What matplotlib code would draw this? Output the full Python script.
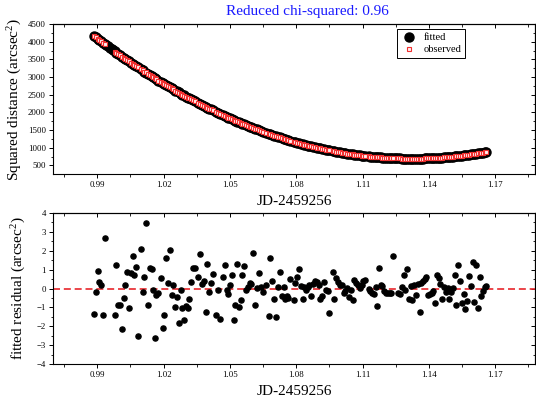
import matplotlib
matplotlib.use("Agg")
import matplotlib.pyplot as plt
from matplotlib.ticker import MultipleLocator
import numpy as np

plt.rcParams['font.family'] = ['Liberation Serif', 'DejaVu Serif']
plt.rcParams['mathtext.fontset'] = 'custom'
plt.rcParams['mathtext.rm'] = 'Liberation Serif'
plt.rcParams['mathtext.it'] = 'Liberation Serif:italic'

# ---------------- data ----------------
jd_obs = [0.9885, 0.9894, 0.9902, 0.9909, 0.9917, 0.9926, 0.9933, 0.9980, 0.9987, 0.9993,
          1.0003, 1.0012, 1.0019, 1.0027, 1.0036, 1.0043, 1.0052, 1.0060, 1.0067, 1.0075,
          1.0084, 1.0096, 1.0105, 1.0113, 1.0120, 1.0129, 1.0137, 1.0146, 1.0153, 1.0161,
          1.0168, 1.0177, 1.0187, 1.0196, 1.0203, 1.0211, 1.0220, 1.0229, 1.0236, 1.0244,
          1.0253, 1.0260, 1.0268, 1.0277, 1.0285, 1.0292, 1.0301, 1.0309, 1.0316, 1.0325,
          1.0333, 1.0342, 1.0358, 1.0366, 1.0374, 1.0381, 1.0390, 1.0398, 1.0405, 1.0413,
          1.0422, 1.0438, 1.0446, 1.0455, 1.0469, 1.0476, 1.0485, 1.0493, 1.0500, 1.0509,
          1.0517, 1.0524, 1.0533, 1.0541, 1.0550, 1.0557, 1.0565, 1.0573, 1.0582, 1.0589,
          1.0597, 1.0606, 1.0613, 1.0621, 1.0630, 1.0639, 1.0648, 1.0664, 1.0679, 1.0682,
          1.0691, 1.0700, 1.0708, 1.0717, 1.0726, 1.0735, 1.0743, 1.0749, 1.0758, 1.0765,
          1.0774, 1.0788, 1.0795, 1.0803, 1.0812, 1.0821, 1.0829, 1.0836, 1.0844, 1.0853,
          1.0860, 1.0869, 1.0877, 1.0884, 1.0892, 1.0901, 1.0909, 1.0916, 1.0925, 1.0933,
          1.0942, 1.0949, 1.0966, 1.0973, 1.0981, 1.0990, 1.0998, 1.1005, 1.1014, 1.1022,
          1.1029, 1.1038, 1.1047, 1.1055, 1.1062, 1.1071, 1.1079, 1.1087, 1.1096, 1.1103,
          1.1111, 1.1127, 1.1135, 1.1142, 1.1151, 1.1159, 1.1165, 1.1174, 1.1182, 1.1189,
          1.1198, 1.1206, 1.1213, 1.1222, 1.1230, 1.1237, 1.1260, 1.1269, 1.1278, 1.1286,
          1.1293, 1.1301, 1.1310, 1.1318, 1.1325, 1.1334, 1.1343, 1.1350, 1.1358, 1.1365,
          1.1373, 1.1381, 1.1388, 1.1396, 1.1403, 1.1412, 1.1420, 1.1429, 1.1436, 1.1444,
          1.1451, 1.1460, 1.1468, 1.1477, 1.1485, 1.1492, 1.1500, 1.1509, 1.1516, 1.1524,
          1.1533, 1.1540, 1.1548, 1.1557, 1.1564, 1.1573, 1.1581, 1.1590, 1.1598, 1.1605,
          1.1614, 1.1622, 1.1629, 1.1638, 1.1646, 1.1653, 1.1660]

residual = [-1.33, -0.20, 0.92, 0.35, 0.17, -1.38, 2.70, -1.38, 1.24, -0.85,
            -0.90, -2.13, -0.49, 0.17, 0.85, -1.02, 0.83, 1.70, 0.74, 1.13,
            -2.50, 2.11, -0.20, 0.61, 3.47, -0.88, 1.10, 1.01, -0.10, -2.63,
            -0.33, -0.24, 0.53, -2.11, -1.38, 1.61, 0.29, 2.06, -0.37, 0.17,
            -0.99, -0.45, -1.84, -0.06, -1.01, -1.68, -0.95, -1.02, -0.54, 0.37,
            1.06, 1.08, 0.61, 1.84, 0.26, 0.42, -1.24, 1.29, -0.20, 0.31,
            0.76, -1.43, -0.10, -1.60, 0.61, 1.26, -0.10, -0.28, 0.17, 0.72,
            -1.68, -0.90, 1.29, -0.97, -0.60, 0.70, 1.17, -0.08, 0.06, 0.31,
            0.24, 1.86, -0.88, 0.03, 0.83, 0.06, -0.17, 0.17, -1.47, 1.63,
            0.40, -0.53, -1.51, 0.08, 0.88, -0.40, 0.10, -0.53, -0.40, -0.51,
            0.49, -0.62, 0.31, 0.61, 1.01, 0.13, -0.53, 0.06, -0.08, 0.10,
            0.21, -0.38, 0.26, 0.38, 0.33, 0.21, -0.58, -0.38, 0.35, -0.08,
            -0.15, -1.31, 0.88, -0.54, 0.53, 0.37, 0.21, 0.17, -0.24, -0.15,
            0.03, -0.45, -0.08, -0.63, 0.45, 0.29, 0.19, 0.03, 0.21, 0.38,
            0.44, -0.04, -0.15, -0.26, -0.31, 0.06, -0.95, 1.11, 0.19, 0.12,
            -0.13, -0.22, -0.24, -0.24, -0.22, 1.70, -0.26, -0.28, 0.10, 0.69,
            -0.10, 1.03, -0.53, 0.13, -0.60, 0.21, -0.35, 0.26, -1.24, 0.31,
            0.40, 0.51, 0.60, -0.33, -0.29, -0.24, -0.15, -0.78, 0.74, 0.56,
            0.24, -0.54, 0.10, -0.17, 0.01, -0.58, -0.19, 0.03, 0.74, -0.90,
            1.22, 0.42, -0.79, -0.29, -1.11, -0.67, 0.65, 0.15, 1.43, -0.74,
            1.27, -1.01, 0.61, -0.40, -0.12, 0.10, 0.13]

fitted_obs = [4167, 4124, 4085, 4052, 4014, 3972, 3939, 3723, 3691, 3664,
              3620, 3580, 3549, 3514, 3475, 3445, 3407, 3372, 3343, 3309,
              3272, 3222, 3185, 3152, 3124, 3087, 3055, 3020, 2992, 2961,
              2933, 2899, 2860, 2826, 2800, 2769, 2736, 2703, 2677, 2648,
              2615, 2590, 2562, 2530, 2502, 2478, 2446, 2419, 2395, 2365,
              2338, 2309, 2256, 2230, 2205, 2182, 2154, 2129, 2107, 2083,
              2055, 2007, 1984, 1957, 1917, 1897, 1871, 1849, 1829, 1805,
              1783, 1764, 1740, 1719, 1695, 1677, 1656, 1636, 1614, 1596,
              1577, 1555, 1538, 1519, 1498, 1477, 1456, 1421, 1388, 1381,
              1362, 1343, 1326, 1308, 1289, 1272, 1256, 1244, 1227, 1214,
              1197, 1171, 1159, 1145, 1129, 1114, 1100, 1089, 1076, 1061,
              1050, 1037, 1024, 1014, 1002, 989, 978, 968, 956, 946,
              934, 925, 904, 896, 886, 876, 867, 860, 850, 842,
              835, 826, 818, 810, 804, 796, 790, 783, 776, 771,
              765, 754, 749, 745, 739, 735, 731, 727, 723, 720,
              716, 712, 710, 706, 704, 702, 696, 694, 693, 691,
              691, 690, 689, 689, 689, 689, 690, 690, 691, 692,
              693, 695, 696, 698, 700, 702, 705, 708, 710, 713,
              716, 720, 724, 729, 733, 737, 741, 747, 751, 756,
              763, 768, 774, 780, 786, 793, 800, 808, 815, 822,
              831, 838, 846, 855, 863, 871, 879]

# fitted epochs without an observed counterpart
jd_fit_only = [0.9941, 0.9949, 0.9957, 0.9965, 0.9972, 1.1245, 1.1252]
fitted_only = [3901, 3865, 3828, 3791, 3759, 700, 698]

chi2_label = "Reduced chi-squared: 0.96"
x_label = "JD-2459256"

n = min(len(jd_obs), len(residual), len(fitted_obs))
jd = np.array(jd_obs[:n])
res = np.array(residual[:n])
fit = np.array(fitted_obs[:n])
obs = fit + res

jd_fit_all = np.concatenate([jd, np.array(jd_fit_only)])
fit_all = np.concatenate([fit, np.array(fitted_only)])
order = np.argsort(jd_fit_all)
jd_fit_all = jd_fit_all[order]
fit_all = fit_all[order]

# ---------------- figure ----------------
W, H = 536, 408
fig = plt.figure(figsize=(W / 100, H / 100), dpi=100)

def frac(left, top, right, bottom):
    return [left / W, 1 - bottom / H, (right - left) / W, (bottom - top) / H]

ax1 = fig.add_axes(frac(53, 24, 535, 174))
ax2 = fig.add_axes(frac(53, 213, 535, 364))

tick_fs = 6.3
label_fs = 11

for ax in (ax1, ax2):
    ax.set_xlim(0.97, 1.188)
    ax.xaxis.set_major_locator(MultipleLocator(0.03))
    ax.xaxis.set_minor_locator(MultipleLocator(0.015))
    ax.xaxis.set_major_formatter(matplotlib.ticker.FormatStrFormatter('%.2f'))
    ax.tick_params(axis='both', which='major', direction='out', length=3.2,
                   width=0.7, labelsize=tick_fs, pad=2)
    ax.tick_params(axis='both', which='minor', direction='out', length=1.8,
                   width=0.6)
    for s in ax.spines.values():
        s.set_linewidth(0.8)
    # mirrored inward ticks on top and right
    secx = ax.secondary_xaxis('top')
    secx.xaxis.set_major_locator(MultipleLocator(0.03))
    secx.xaxis.set_minor_locator(MultipleLocator(0.015))
    secx.tick_params(which='major', direction='in', length=3.2, width=0.7,
                     labeltop=False)
    secx.tick_params(which='minor', direction='in', length=1.8, width=0.6)
    secx.spines['top'].set_linewidth(0.8)

# top panel
ax1.set_ylim(255, 4500)
ax1.yaxis.set_major_locator(MultipleLocator(500))
ax1.yaxis.set_minor_locator(MultipleLocator(250))
secy1 = ax1.secondary_yaxis('right')
secy1.yaxis.set_major_locator(MultipleLocator(500))
secy1.yaxis.set_minor_locator(MultipleLocator(250))
secy1.tick_params(which='major', direction='in', length=3.2, width=0.7, labelright=False)
secy1.tick_params(which='minor', direction='in', length=1.8, width=0.6)
secy1.spines['right'].set_linewidth(0.8)

ax1.plot(jd_fit_all, fit_all, linestyle='none', marker='o', markersize=6.5,
         color='black', markeredgecolor='black', label='fitted', zorder=2)
ax1.plot(jd, obs, linestyle='none', marker='s', markersize=2.9,
         markerfacecolor='#fff0f0', markeredgecolor='#f03030', markeredgewidth=0.8,
         label='observed', zorder=3)

leg = ax1.legend(loc='upper right', bbox_to_anchor=(0.855, 0.965), fontsize=7.6,
                 frameon=True, fancybox=False, framealpha=1, edgecolor='black',
                 borderpad=0.35, handlelength=1.6, handletextpad=0.6,
                 labelspacing=0.25, borderaxespad=0)
leg.get_frame().set_linewidth(0.7)

ax1.set_ylabel('Squared distance (arcsec$^{\\mathrm{2}}$)', fontsize=label_fs, labelpad=3)
ax1.set_xlabel(x_label, fontsize=label_fs, labelpad=4)

fig.text(307 / W, 1 - 12 / H, chi2_label, color='#1a1aff', fontsize=11,
         ha='center', va='center')

# bottom panel
ax2.set_ylim(-4, 4)
ax2.yaxis.set_major_locator(MultipleLocator(1))
ax2.yaxis.set_minor_locator(MultipleLocator(0.5))
secy2 = ax2.secondary_yaxis('right')
secy2.yaxis.set_major_locator(MultipleLocator(1))
secy2.yaxis.set_minor_locator(MultipleLocator(0.5))
secy2.tick_params(which='major', direction='in', length=3.2, width=0.7, labelright=False)
secy2.tick_params(which='minor', direction='in', length=1.8, width=0.6)
secy2.spines['right'].set_linewidth(0.8)

ax2.plot(jd, res, linestyle='none', marker='o', markersize=3.7, color='black', zorder=3)
ax2.axhline(0, color='#e8262b', linewidth=1.2, dashes=(4.2, 2.3), zorder=2)

ax2.set_ylabel('fitted residual (arcsec$^{\\mathrm{2}}$)', fontsize=label_fs, labelpad=6)
ax2.set_xlabel(x_label, fontsize=label_fs, labelpad=4)

fig.savefig('out.png', dpi=100)
